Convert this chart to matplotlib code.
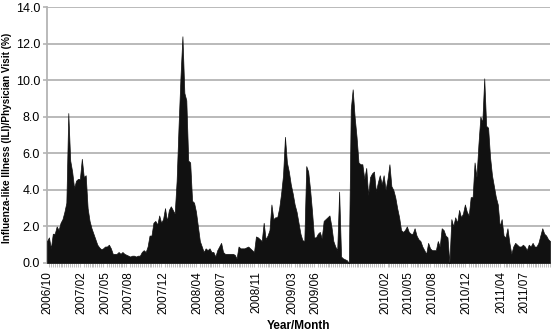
import matplotlib.pyplot as plt
import numpy as np

plt.rcParams['font.family'] = ['Liberation Sans', 'DejaVu Sans']

# weekly ILI per physician visit (%), starting first week of 2006/10
ili = [1.2, 1.4, 0.8, 1.6, 1.6, 2.0, 1.8, 2.2, 2.4, 2.8,
       3.3, 8.2, 5.6, 5.0, 4.1, 4.5, 4.6, 4.6, 5.7, 4.7,
       4.8, 3.0, 2.3, 1.9, 1.6, 1.3, 1.0, 0.85, 0.75, 0.8,
       0.9, 0.9, 1.0, 0.8, 0.5, 0.5, 0.5, 0.6, 0.5, 0.6,
       0.5, 0.45, 0.4, 0.35, 0.4, 0.4, 0.35, 0.4, 0.4, 0.6,
       0.7, 0.6, 0.9, 1.5, 1.5, 2.2, 2.3, 2.1, 2.6, 2.2,
       2.4, 3.0, 2.3, 2.9, 3.1, 2.9, 2.7, 4.5, 7.5, 10.2,
       12.4, 9.3, 8.9, 5.6, 5.5, 3.4, 3.3, 2.8, 2.0, 1.2,
       0.9, 0.6, 0.8, 0.7, 0.8, 0.6, 0.6, 0.35, 0.7, 0.9,
       1.1, 0.6, 0.5, 0.5, 0.5, 0.5, 0.5, 0.45, 0.25, 0.9,
       0.8, 0.8, 0.8, 0.85, 0.9, 0.8, 0.7, 0.6, 1.45, 1.4,
       1.3, 1.2, 2.2, 1.3, 1.5, 1.8, 3.2, 2.4, 2.5, 2.5,
       3.0, 3.8, 4.8, 6.9, 5.5, 5.0, 4.3, 3.8, 3.2, 2.8,
       2.2, 1.6, 1.25, 1.2, 5.3, 5.0, 4.0, 2.8, 1.4, 1.4,
       1.6, 1.7, 1.35, 2.3, 2.4, 2.5, 2.6, 2.0, 1.2, 0.9,
       0.7, 3.9, 0.35, 0.25, 0.2, 0.15, 0.0, 8.4, 9.5, 8.0,
       6.9, 5.5, 5.4, 5.4, 4.6, 5.2, 3.7, 4.7, 4.9, 5.0,
       3.9, 4.4, 4.8, 4.3, 4.8, 4.0, 4.6, 5.4, 4.2, 4.0,
       3.6, 3.0, 2.5, 1.8, 1.7, 1.8, 2.0, 1.7, 1.6, 1.6,
       1.9, 1.5, 1.3, 1.2, 0.9, 0.7, 0.5, 1.1, 0.8, 0.7,
       0.7, 0.7, 1.2, 0.9, 1.9, 1.8, 1.5, 1.4, 0.0, 2.4,
       2.0, 2.5, 2.2, 2.9, 2.5, 2.7, 3.2, 2.8, 2.6, 3.6,
       3.6, 5.5, 4.7, 6.5, 8.0, 7.7, 10.1, 7.5, 7.4, 5.8,
       4.8, 4.2, 3.6, 3.2, 2.0, 2.4, 1.5, 1.4, 1.9, 1.1,
       0.5, 0.9, 1.1, 1.0, 0.9, 0.9, 1.0, 0.9, 0.7, 1.0,
       0.9, 1.1, 0.9, 0.9, 1.1, 1.5, 1.9, 1.6, 1.5, 1.3,
       1.2]

month_labels = ['2006/10', '2007/02', '2007/05', '2007/08', '2007/12', '2008/04',
                '2008/07', '2008/11', '2009/03', '2009/06', '2010/02', '2010/05',
                '2010/08', '2010/12', '2011/04', '2011/07']
label_weeks = [0, 18, 30, 42, 60, 78, 90, 108, 127, 139, 175, 187, 199, 217, 235, 247]

weeks = np.arange(len(ili))

fig = plt.figure(figsize=(5.53, 3.35), dpi=100)
ax = fig.add_axes([0.085, 0.215, 0.9096, 0.764])

ax.fill_between(weeks, ili, 0, color='#111111', lw=0.5, edgecolor='#111111', zorder=3)

ax.set_ylim(0, 14)
ax.set_xlim(0, len(ili) - 1)
ax.set_yticks(np.arange(0, 15, 2))
ax.set_yticklabels([f'{v:.1f}' for v in np.arange(0, 15, 2)], fontsize=9)
ax.yaxis.grid(True, color='#b4b4b4', lw=1.3, zorder=0)
ax.set_axisbelow(True)

ax.set_xticks(label_weeks)
ax.set_xticklabels(month_labels, rotation=90, fontsize=8.5)
ax.set_xticks(weeks, minor=True)
ax.tick_params(axis='x', which='major', length=0, pad=6)
ax.tick_params(axis='x', which='minor', length=3, color='#b4b4b4', width=0.6)
ax.tick_params(axis='y', length=3, color='#b4b4b4', width=1.2, pad=2)

for s in ['top', 'right']:
    ax.spines[s].set_visible(False)
ax.spines['left'].set_color('#b4b4b4')
ax.spines['left'].set_linewidth(1.3)
ax.spines['bottom'].set_color('#b4b4b4')
ax.spines['bottom'].set_linewidth(1.3)

ax.set_ylabel('Influenza-like Illness (ILI)/Physician Visit (%)', fontsize=7.2, fontweight='bold')
ax.yaxis.set_label_coords(-0.07, 0.49)
ax.set_xlabel('Year/Month', fontsize=8.5, fontweight='bold', labelpad=4)

fig.savefig('out.png', dpi=100)
